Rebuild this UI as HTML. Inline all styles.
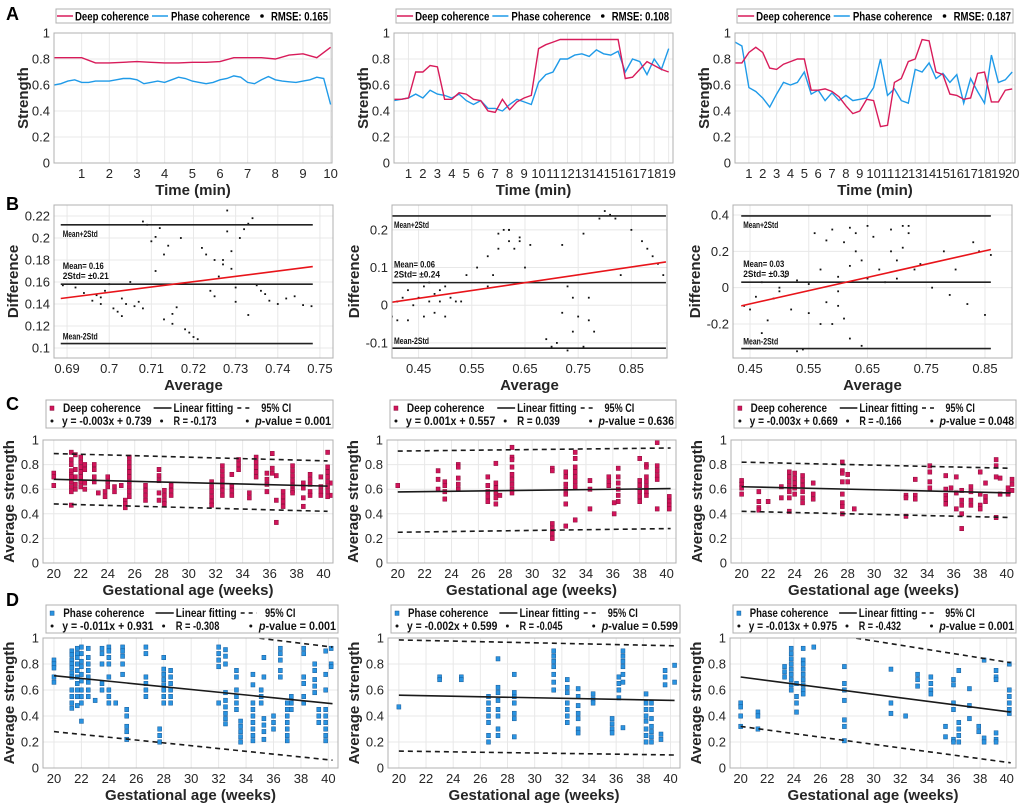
<!DOCTYPE html>
<html><head><meta charset="utf-8"><style>
html,body{margin:0;padding:0;background:#fff;}
svg{display:block;font-family:"Liberation Sans",Arial,sans-serif;}
</style></head><body>
<svg id="fig" width="1021" height="808" viewBox="0 0 1021 808" xmlns="http://www.w3.org/2000/svg">
<text x="6" y="20" font-size="18" font-weight="bold">A</text>
<text x="6" y="210" font-size="18" font-weight="bold">B</text>
<text x="6" y="410" font-size="18" font-weight="bold">C</text>
<text x="6" y="606" font-size="18" font-weight="bold">D</text>
</svg>
<script>
// ---------- Row A data (time step 0.25/0.5 min) ----------
const a1DeepStep = 0.5;
const a1Deep = [0.81,0.81,0.81,0.77,0.77,0.775,0.78,0.775,0.77,0.77,0.775,0.775,0.78,0.81,0.81,0.81,0.80,0.83,0.84,0.81,0.89];
const a1PhaseStep = 0.25;
const a1Phase = [0.60,0.61,0.63,0.64,0.62,0.62,0.63,0.63,0.63,0.64,0.65,0.65,0.64,0.61,0.62,0.63,0.62,0.64,0.66,0.65,0.63,0.62,0.61,0.62,0.64,0.65,0.67,0.66,0.62,0.61,0.64,0.665,0.64,0.63,0.625,0.62,0.63,0.64,0.66,0.65,0.45];
const a2Step = 0.5;
const a2Deep = [0.49,0.49,0.50,0.70,0.70,0.75,0.74,0.49,0.49,0.54,0.53,0.49,0.48,0.40,0.39,0.49,0.41,0.47,0.50,0.52,0.88,0.91,0.93,0.95,0.95,0.95,0.95,0.95,0.95,0.95,0.95,0.95,0.65,0.66,0.72,0.78,0.75,0.72,0.70];
const a2Phase = [0.48,0.49,0.50,0.53,0.50,0.56,0.53,0.52,0.50,0.53,0.48,0.45,0.48,0.42,0.42,0.40,0.45,0.49,0.47,0.45,0.62,0.68,0.70,0.80,0.80,0.83,0.84,0.82,0.87,0.84,0.83,0.86,0.70,0.80,0.78,0.68,0.80,0.72,0.88];
const a3Step = 0.5;
const a3Deep = [0.77,0.77,0.85,0.89,0.85,0.73,0.72,0.76,0.78,0.80,0.80,0.56,0.56,0.57,0.55,0.51,0.44,0.38,0.40,0.49,0.48,0.28,0.29,0.62,0.65,0.78,0.80,0.95,0.94,0.70,0.68,0.53,0.52,0.49,0.50,0.69,0.70,0.47,0.47,0.56,0.57];
const a3Phase = [0.93,0.90,0.58,0.55,0.50,0.43,0.53,0.62,0.60,0.62,0.70,0.53,0.56,0.48,0.54,0.48,0.52,0.48,0.49,0.50,0.58,0.80,0.52,0.57,0.48,0.46,0.72,0.70,0.77,0.65,0.69,0.62,0.68,0.46,0.65,0.55,0.46,0.83,0.62,0.64,0.70];
const aRmse = ["RMSE: 0.165","RMSE: 0.108","RMSE: 0.187"];
// ---------- Row B data ----------
const b1X = [0.689,0.692,0.694,0.696,0.697,0.698,0.699,0.700,0.701,0.702,0.703,0.704,0.706,0.707,0.708,0.708,0.709,0.710,0.711,0.712,0.713,0.714,0.715,0.715,0.716,0.718,0.719,0.720,0.721,0.722,0.723,0.724,0.725,0.726,0.727,0.727,0.728,0.728,0.729,0.730,0.731,0.732,0.733,0.733,0.734,0.735,0.736,0.737,0.738,0.740,0.742,0.744,0.746,0.748,0.705,0.711,0.713,0.717,0.725,0.729,0.730,0.698,0.703];
const b1Y = [0.157,0.155,0.150,0.143,0.148,0.140,0.152,0.158,0.136,0.133,0.145,0.140,0.138,0.142,0.215,0.136,0.212,0.197,0.201,0.209,0.126,0.193,0.131,0.122,0.137,0.117,0.114,0.110,0.108,0.191,0.185,0.152,0.147,0.165,0.176,0.180,0.206,0.225,0.172,0.142,0.200,0.208,0.213,0.130,0.218,0.157,0.152,0.149,0.143,0.140,0.145,0.147,0.139,0.138,0.160,0.170,0.185,0.200,0.180,0.188,0.155,0.146,0.129];
const b2X = [0.40,0.41,0.41,0.42,0.43,0.43,0.44,0.45,0.46,0.46,0.47,0.47,0.48,0.48,0.49,0.49,0.50,0.50,0.51,0.52,0.53,0.54,0.56,0.58,0.59,0.60,0.60,0.61,0.62,0.62,0.63,0.64,0.65,0.66,0.69,0.70,0.71,0.72,0.72,0.73,0.73,0.74,0.74,0.75,0.76,0.76,0.77,0.77,0.78,0.79,0.80,0.81,0.82,0.83,0.85,0.87,0.88,0.89,0.90,0.91,0.62,0.64,0.58];
const b2Y = [-0.03,0.01,-0.04,0.02,-0.04,0.04,0.00,0.02,0.05,-0.03,0.01,0.06,0.03,-0.02,0.04,0.01,-0.03,0.05,0.02,0.01,0.01,0.08,0.10,0.13,0.08,0.19,0.15,0.20,0.20,0.17,0.15,0.18,0.10,0.16,-0.09,-0.11,-0.10,0.16,-0.02,0.05,-0.12,0.02,-0.07,-0.03,0.19,-0.11,-0.04,0.02,-0.07,0.23,0.25,0.24,0.23,0.08,0.20,0.17,0.15,0.13,0.11,0.08,0.20,0.17,0.05];
const b3X = [0.44,0.45,0.46,0.47,0.48,0.49,0.50,0.50,0.51,0.52,0.53,0.54,0.55,0.55,0.56,0.57,0.58,0.58,0.59,0.59,0.60,0.60,0.61,0.61,0.62,0.62,0.63,0.63,0.64,0.64,0.65,0.65,0.66,0.67,0.68,0.69,0.69,0.70,0.70,0.71,0.71,0.72,0.72,0.73,0.74,0.76,0.78,0.79,0.80,0.82,0.83,0.84,0.85,0.86,0.57,0.60,0.62,0.47,0.53];
const b3Y = [-0.10,-0.12,-0.05,0.03,-0.18,-0.06,0.00,-0.02,0.06,-0.12,0.04,-0.34,0.02,-0.14,0.30,0.10,0.26,-0.08,-0.20,0.32,-0.10,0.06,0.25,-0.17,0.33,-0.28,0.30,0.20,0.15,-0.32,0.34,0.05,0.28,0.10,0.03,0.20,0.32,0.15,0.05,0.22,0.34,0.34,0.30,0.10,0.13,0.00,0.20,-0.04,0.10,-0.09,0.25,0.20,-0.15,0.18,-0.20,-0.02,0.12,-0.25,-0.35];
const bMean = [0.158,0.06,0.03];
const bUpper = [0.212,0.237,0.395];
const bLower = [0.104,-0.114,-0.335];
const bRange = [[0.6885,0.7483],[0.40,0.915],[0.435,0.86]];
const bFit = [[0.145,0.174],[0.008,0.115],[-0.10,0.21]];
const bMeanText = ["Mean= 0.16","Mean= 0.06","Mean= 0.03"];
const bStdText = ["2Std= \u00b10.21","2Std= \u00b10.24","2Std= \u00b10.39"];
// ---------- Row C data (weeks, grouped values) ----------
const c1Weeks = [20,21.3,21.6,22,22.3,23,23.3,23.8,24,24.5,25,25.3,25.6,26.8,27.8,28.2,28.7,31.7,32.5,33.2,33.7,34.5,35,35.8,36.2,36.5,37,37.7,38.5,39,39.8,40.3,40.6];
const c1Vals = [[0.73,0.70,0.63],[0.90,0.84,0.80,0.75,0.72,0.70,0.66,0.62,0.58,0.47],[0.88,0.76,0.70,0.64,0.60],[0.86,0.82,0.78,0.74,0.70,0.66,0.62],[0.80,0.76,0.65,0.60],[0.80,0.76,0.70,0.66],[0.57],[0.58,0.54],[0.70,0.66,0.62],[0.62,0.58],[0.63],[0.51,0.48,0.45],[0.86,0.82,0.78,0.74,0.70,0.66,0.62,0.58,0.54],[0.63,0.59,0.55,0.51],[0.76,0.71,0.67,0.57,0.51],[0.59,0.55,0.51,0.48],[0.63,0.59,0.55],[0.66,0.62,0.58,0.54,0.50,0.47],[0.79,0.75,0.71,0.67,0.63,0.59,0.55],[0.72,0.63,0.59,0.55],[0.84,0.80,0.76],[0.57,0.53],[0.86,0.82,0.78,0.74,0.70],[0.73,0.68,0.64,0.58],[0.89,0.77,0.73],[0.71,0.51,0.33],[0.58,0.54,0.50,0.46],[0.79,0.75,0.71,0.67,0.63,0.59,0.57],[0.65,0.61,0.53,0.46],[0.72,0.68,0.64,0.58,0.55],[0.70,0.62,0.58,0.55],[0.90,0.78,0.74,0.70,0.66,0.62,0.58,0.54],[0.65,0.55]];
const c2Weeks = [20,23,23.5,24.5,26.7,27.3,27.6,28.5,31.5,32.5,33.2,34.3,35.7,36.1,36.4,38,38.5,39.3,40.2];
const c2Vals = [[0.63],[0.75,0.68,0.60],[0.66,0.63,0.58,0.52],[0.80,0.78,0.69,0.64,0.60],[0.70,0.63,0.58,0.54,0.50],[0.81,0.65,0.61,0.57,0.53,0.48],[0.55],[0.94,0.86,0.84,0.78,0.72,0.68,0.64,0.60,0.57],[0.77,0.75,0.32,0.28,0.24,0.20],[0.74,0.70,0.64,0.60,0.56,0.48,0.30],[0.90,0.85,0.78,0.74,0.70,0.66,0.62,0.35],[0.67,0.60,0.44],[0.70,0.66,0.63],[0.49,0.40],[0.77,0.70,0.65,0.60,0.55,0.50],[0.85,0.67,0.63,0.58,0.54,0.50],[0.80,0.78,0.70,0.66,0.62,0.58,0.55],[0.98,0.79,0.75,0.71,0.68,0.44],[0.54,0.50,0.47,0.44]];
const c3Weeks = [20,21.3,22,23,23.6,24,24.6,25.4,27.6,28,28.5,32.4,33.1,34.2,35.4,35.8,36.2,36.6,37.3,38,38.4,39.2,39.5,40.1,40.4];
const c3Vals = [[0.67,0.64,0.61,0.56],[0.58,0.50,0.45,0.43],[0.50],[0.62,0.53],[0.74,0.70,0.66,0.62,0.58,0.53,0.42],[0.73,0.69,0.65,0.61,0.56],[0.71,0.67,0.63,0.58,0.53,0.49],[0.65,0.56,0.52],[0.82,0.75,0.73,0.66,0.56,0.49,0.46,0.40],[0.72,0.66],[0.44],[0.55,0.53,0.38],[0.68,0.55,0.52],[0.79,0.74,0.66,0.61],[0.71,0.60,0.55,0.52,0.48],[0.61],[0.70,0.57,0.44],[0.59,0.51,0.47,0.40,0.28],[0.62,0.58,0.51,0.47],[0.74,0.56,0.47,0.44],[0.65,0.54,0.50],[0.84,0.79,0.70,0.37],[0.69,0.56],[0.61,0.57,0.56],[0.68,0.64,0.59]];
// ---------- Row D data ----------
const d1Weeks = [20,21.3,21.7,22,22.5,23,23.5,24,24.5,25,25.3,26.7,27.7,28,28.5,32,32.5,33.3,33.6,34.5,35.1,35.3,36,36.5,37,37.3,38.2,39,39.3,39.8,40.2];
const d1Vals = [[0.83,0.80,0.77,0.70,0.66],[0.90,0.87,0.83,0.80,0.77,0.73,0.70,0.60,0.55,0.50,0.46],[0.92,0.88,0.85,0.80,0.75,0.70,0.65,0.60,0.55,0.48],[0.93,0.88,0.82,0.78,0.72,0.67,0.60,0.55,0.50,0.36],[0.92,0.85,0.80,0.75,0.70,0.66,0.60,0.55],[0.52],[0.92,0.88,0.80,0.65,0.60],[0.93,0.90,0.85,0.80,0.70,0.60,0.55,0.50],[0.50],[0.93,0.90,0.86,0.80,0.72],[0.45,0.40,0.32,0.28,0.22],[0.93,0.88,0.70,0.65,0.60,0.55],[0.30,0.25,0.20],[0.85,0.76,0.72,0.68,0.64,0.60,0.55,0.50],[0.75,0.70,0.65,0.60,0.55,0.50],[0.93,0.88,0.83,0.78,0.50],[0.91,0.86,0.80,0.58,0.52,0.47,0.42,0.38,0.34],[0.75,0.70,0.60,0.55,0.50,0.45],[0.36,0.32,0.28,0.24,0.20],[0.72,0.64,0.50,0.45,0.40,0.35,0.30,0.25,0.21],[0.60,0.55,0.50],[0.85,0.70,0.38,0.33,0.28,0.22],[0.40,0.35,0.30],[0.92,0.88,0.83,0.75,0.70],[0.50,0.45,0.40,0.35,0.30,0.25,0.21],[0.55,0.50,0.45],[0.92,0.88,0.70,0.65,0.55,0.50],[0.80,0.75,0.68,0.63,0.58],[0.45,0.40,0.35],[0.90,0.72,0.60,0.45,0.40,0.35,0.30,0.25,0.21],[0.92,0.80,0.78]];
const d2Weeks = [20,23,24.6,26.6,27.3,28.5,31.4,32.4,33.2,34.3,35.7,36.2,36.5,38.2,38.6,39.3,39.6,40.3];
const d2Vals = [[0.47],[0.70,0.68],[0.70,0.68],[0.55,0.50,0.45,0.40,0.35,0.25,0.20],[0.84,0.62,0.58,0.52,0.45,0.40,0.30,0.25],[0.72,0.58,0.55,0.50,0.42,0.38,0.24],[0.90,0.86,0.82,0.78,0.72,0.66,0.60],[0.68,0.62,0.58,0.50,0.45,0.40,0.35],[0.61,0.55,0.48,0.42,0.38,0.30,0.27],[0.57,0.53,0.50],[0.38,0.34,0.30,0.27],[0.70,0.65,0.60,0.54],[0.90,0.86,0.82,0.78,0.72,0.66,0.31],[0.57,0.50,0.45,0.40,0.36,0.30,0.25,0.20],[0.50,0.45,0.38,0.32,0.28,0.24,0.20],[0.26,0.22],[0.75,0.70,0.64],[0.79,0.66]];
const d3Weeks = [20,21.3,23.3,23.8,24.2,24.7,25.5,27.8,31.3,32.4,33.3,34.3,35.4,36,36.4,37.2,37.9,38.3,39.2,40.2];
const d3Vals = [[0.50,0.47,0.40,0.32],[0.43,0.40,0.30],[0.78,0.74,0.70],[0.92,0.88,0.84,0.80,0.76,0.72,0.68,0.64,0.60],[0.65,0.55,0.50,0.43],[0.92,0.83,0.80,0.76,0.72,0.68,0.64,0.60,0.57],[0.93],[0.78,0.65,0.60,0.52,0.37,0.32,0.21],[0.76,0.50,0.42],[0.40],[0.72,0.68,0.63],[0.70,0.65,0.60,0.57],[0.32,0.24],[0.68,0.64,0.50,0.45,0.22,0.20],[0.75,0.35,0.30,0.25,0.20],[0.61,0.48,0.38],[0.32,0.28],[0.83,0.23,0.20],[0.75,0.70,0.68,0.27,0.22,0.20],[0.80,0.60,0.55,0.50,0.45,0.42]];
// fit/CI lines: [value at 20, value at 40.3]
const cdFitEnds = [[0.68,0.625],[0.578,0.605],[0.62,0.57],[0.71,0.495],[0.56,0.52],[0.70,0.43]];
const cdUpperEnds = [[0.89,0.83],[0.91,0.935],[0.82,0.77],[1.19,0.93],[0.985,0.94],[1.14,0.81]];
const cdLowerEnds = [[0.48,0.42],[0.25,0.28],[0.42,0.37],[0.28,0.06],[0.13,0.10],[0.32,0.04]];
const cdEq = ["y = -0.003x + 0.739","y = 0.001x + 0.557","y = -0.003x + 0.669","y = -0.011x + 0.931","y = -0.002x + 0.599","y = -0.013x + 0.975"];
const cdR = ["R = -0.173","R = 0.039","R = -0.166","R = -0.308","R = -0.045","R = -0.432"];
const cdP = ["0.001","0.636","0.048","0.001","0.599","0.001"];

const NS = "http://www.w3.org/2000/svg";
const svg = document.getElementById('fig');
function mk(tag, attrs, parent){
  const e = document.createElementNS(NS, tag);
  for (const k in attrs) e.setAttribute(k, attrs[k]);
  (parent||svg).appendChild(e);
  return e;
}
function txt(str, attrs, parent){ const t = mk('text', attrs, parent); t.textContent = str; return t; }
let clipId = 0;
function axes(o){
  const g = mk('g', {});
  
  
  const sx = v => o.L + (v - o.xd[0]) / (o.xd[1] - o.xd[0]) * (o.R - o.L);
  const sy = v => o.B - (v - o.yd[0]) / (o.yd[1] - o.yd[0]) * (o.B - o.T);
  mk('rect', {x:o.L, y:o.T, width:o.R-o.L, height:o.B-o.T, fill:'#fff'}, g);
  const grid = mk('g', {stroke:'#e8e8e8', 'stroke-width':1}, g);
  
  
  o.xt.forEach(v => { const x = sx(v); mk('line', {x1:x, x2:x, y1:o.T, y2:o.B}, grid); });
  o.yt.forEach(v => { const y = sy(v); mk('line', {x1:o.L, x2:o.R, y1:y, y2:y}, grid); });
  const xl = mk('g', {'font-size':13, fill:'#262626', 'text-anchor':'middle'}, g);
  
  
  o.xt.forEach((v,i) => txt(o.xtl ? o.xtl[i] : String(v), {x:sx(v), y:o.B+15}, xl));
  const yl = mk('g', {'font-size':13, fill:'#262626', 'text-anchor':'end'}, g);
  
  
  o.yt.forEach((v,i) => txt(o.ytl ? o.ytl[i] : String(v), {x:o.L-4, y:sy(v)+4.5}, yl));
  const xt = txt(o.xlabel, {x:(o.L+o.R)/2, y:o.B+32, 'font-size':15, 'font-weight':'bold', 'text-anchor':'middle', fill:'#262626'}, g);
  
  
  const yx = o.L - o.ylOff, ymid = (o.T+o.B)/2;
  const yt = txt(o.ylabel, {x:yx, y:ymid, 'font-size':15, 'font-weight':'bold', 'text-anchor':'middle', fill:'#262626', transform:`rotate(-90 ${yx} ${ymid})`}, g);
  
  
  const id = 'clip' + (clipId++);
  const cp = mk('clipPath', {id:id}, g);
  mk('rect', {x:o.L, y:o.T, width:o.R-o.L, height:o.B-o.T}, cp);
  const plot = mk('g', {'clip-path':`url(#${id})`}, g);
  
  
  const border = mk('rect', {x:o.L, y:o.T, width:o.R-o.L, height:o.B-o.T, fill:'none', stroke:'#b0b0b0', 'stroke-width':1}, g);
  
  
  return {sx, sy, g, plot};
}
function pathFrom(xs, ys, sx, sy){ return xs.map((x,i)=>(i?'L':'M')+sx(x).toFixed(1)+','+sy(ys[i]).toFixed(1)).join(''); }

// ---------- Row A ----------
const RED = '#d81b5a', BLUE = '#1f9ae8';
const aBoxes = [[54,332,[0,10.05],[1,2,3,4,5,6,7,8,9,10]],[394,673,[0,19.3],[1,2,3,4,5,6,7,8,9,10,11,12,13,14,15,16,17,18,19]],[735,1015,[0,20.2],[1,2,3,4,5,6,7,8,9,10,11,12,13,14,15,16,17,18,19,20]]];
const aSeries = [[a1Deep,a1DeepStep,a1Phase,a1PhaseStep],[a2Deep,a2Step,a2Phase,a2Step],[a3Deep,a3Step,a3Phase,a3Step]];
aBoxes.forEach((b,k) => {
  const ax = axes({name:'strength-panel-a'+(k+1), L:b[0], R:b[1], T:33, B:163, xd:b[2], yd:[0,1], xt:b[3], yt:[0,0.2,0.4,0.6,0.8,1], xlabel:'Time (min)', ylabel:'Strength', ylOff:26});
  const s = aSeries[k];
  const px = s[2].map((v,i)=>i*s[3]);
  const pl = mk('path', {d:pathFrom(px, s[2], ax.sx, ax.sy), fill:'none', stroke:BLUE, 'stroke-width':1.4}, ax.plot);
  
  
  const dx = s[0].map((v,i)=>i*s[1]);
  const dl = mk('path', {d:pathFrom(dx, s[0], ax.sx, ax.sy), fill:'none', stroke:RED, 'stroke-width':1.4}, ax.plot);
  
  
  // legend
  const L = b[0]+2, W = b[1]-b[0]-4, f = W/274;
  const lg = mk('g', {}, svg);
  
  
  mk('rect', {x:L, y:9, width:W, height:14, fill:'#fff', stroke:'#b0b0b0'}, lg);
  mk('line', {x1:L+1*f, x2:L+17*f, y1:16, y2:16, stroke:RED, 'stroke-width':1.5}, lg);
  txt('Deep coherence', {x:L+19*f, y:20.5, 'font-size':12, 'font-weight':'bold', textLength:74*f, lengthAdjust:'spacingAndGlyphs'}, lg);
  mk('line', {x1:L+96*f, x2:L+112*f, y1:16, y2:16, stroke:BLUE, 'stroke-width':1.5}, lg);
  txt('Phase coherence', {x:L+115*f, y:20.5, 'font-size':12, 'font-weight':'bold', textLength:79*f, lengthAdjust:'spacingAndGlyphs'}, lg);
  mk('circle', {cx:L+206*f, cy:16, r:1.8, fill:'#000'}, lg);
  txt(aRmse[k], {x:L+215*f, y:20.5, 'font-size':12, 'font-weight':'bold', textLength:57*f, lengthAdjust:'spacingAndGlyphs'}, lg);
});

// ---------- Row B ----------
const bBoxes = [
  [54,333,[0.6869,0.7531],[0.0909,0.23],[0.69,0.70,0.71,0.72,0.73,0.74,0.75],['0.69','0.7','0.71','0.72','0.73','0.74','0.75'],[0.1,0.12,0.14,0.16,0.18,0.2,0.22],['0.1','0.12','0.14','0.16','0.18','0.2','0.22'],36],
  [392,667,[0.40,0.917],[-0.14,0.266],[0.45,0.55,0.65,0.75,0.85],['0.45','0.55','0.65','0.75','0.85'],[-0.1,0,0.1,0.2],['-0.1','0','0.1','0.2'],33],
  [733,1012,[0.421,0.896],[-0.387,0.455],[0.45,0.55,0.65,0.75,0.85],['0.45','0.55','0.65','0.75','0.85'],[-0.2,0,0.2,0.4],['-0.2','0','0.2','0.4'],33]];
const bX = [b1X,b2X,b3X], bY = [b1Y,b2Y,b3Y];
bBoxes.forEach((b,k) => {
  const ax = axes({name:'bland-altman-panel-b'+(k+1), L:b[0], R:b[1], T:205, B:358, xd:b[2], yd:b[3], xt:b[4], xtl:b[5], yt:b[6], ytl:b[7], xlabel:'Average', ylabel:'Difference', ylOff:b[8]});
  const pts = mk('g', {fill:'#111'}, ax.plot);
  
  
  const n = Math.min(bX[k].length, bY[k].length);
  for (let i=0;i<n;i++) mk('rect', {x:ax.sx(bX[k][i])-0.9, y:ax.sy(bY[k][i])-0.9, width:1.8, height:1.8}, pts);
  const r = bRange[k];
  [[bUpper[k],'upper-limit-line'],[bMean[k],'mean-line'],[bLower[k],'lower-limit-line']].forEach(l => {
    const ln = mk('line', {x1:ax.sx(r[0]), x2:ax.sx(r[1]), y1:ax.sy(l[0]), y2:ax.sy(l[0]), stroke:'#222', 'stroke-width':1.6}, ax.plot);
    
    
  });
  const fl = mk('line', {x1:ax.sx(r[0]), x2:ax.sx(r[1]), y1:ax.sy(bFit[k][0]), y2:ax.sy(bFit[k][1]), stroke:'#e8141a', 'stroke-width':1.6}, ax.plot);
  
  
  const tx = ax.sx(r[0]) + 2;
  const st = {'font-size':9, 'font-weight':'bold', fill:'#111'};
  const t1 = txt('Mean+2Std', Object.assign({x:tx, y:ax.sy(bUpper[k])+12, textLength:35, lengthAdjust:'spacingAndGlyphs'}, st), ax.g);
  
  
  const t2 = txt(bMeanText[k], Object.assign({x:tx, y:ax.sy(bMean[k])-15, textLength:41, lengthAdjust:'spacingAndGlyphs'}, st), ax.g);
  
  
  const t3 = txt(bStdText[k], Object.assign({x:tx, y:ax.sy(bMean[k])-5, textLength:46, lengthAdjust:'spacingAndGlyphs'}, st), ax.g);
  
  
  const t4 = txt('Mean-2Std', Object.assign({x:tx, y:ax.sy(bLower[k])-4, textLength:35, lengthAdjust:'spacingAndGlyphs'}, st), ax.g);
  
  
});

// ---------- Rows C & D ----------
const cdPanels = [
  [43,333,440,563,c1Weeks,c1Vals,'Deep coherence','#d0145a','#8a0a38',400],
  [387,676,440,563,c2Weeks,c2Vals,'Deep coherence','#d0145a','#8a0a38',400],
  [731,1016,440,563,c3Weeks,c3Vals,'Deep coherence','#d0145a','#8a0a38',400],
  [43,338,638,768,d1Weeks,d1Vals,'Phase coherence','#2a93e0','#145a9a',605],
  [388,680,638,768,d2Weeks,d2Vals,'Phase coherence','#2a93e0','#145a9a',605],
  [730,1016,638,768,d3Weeks,d3Vals,'Phase coherence','#2a93e0','#145a9a',605]];
cdPanels.forEach((p,k) => {
  const ax = axes({name:(k<3?'deep-scatter-panel-c':'phase-scatter-panel-d')+(k%3+1), L:p[0], R:p[1], T:p[2], B:p[3], xd:[19.2,40.7], yd:[0,1], xt:[20,22,24,26,28,30,32,34,36,38,40], yt:[0,0.2,0.4,0.6,0.8,1], xlabel:'Gestational age (weeks)', ylabel:'Average strength', ylOff:29});
  const pts = mk('g', {fill:p[7], stroke:p[8], 'stroke-width':0.5}, ax.plot);
  
  
  p[4].forEach((w,i) => (p[5][i]||[]).forEach(v => mk('rect', {x:ax.sx(w)-2, y:ax.sy(v)-2.2, width:4, height:4.4}, pts)));
  const x0 = ax.sx(20), x1 = ax.sx(40.3);
  const fl = mk('line', {x1:x0, x2:x1, y1:ax.sy(cdFitEnds[k][0]), y2:ax.sy(cdFitEnds[k][1]), stroke:'#1a1a1a', 'stroke-width':1.6}, ax.plot);
  
  
  const cu = mk('line', {x1:x0, x2:x1, y1:ax.sy(cdUpperEnds[k][0]), y2:ax.sy(cdUpperEnds[k][1]), stroke:'#1a1a1a', 'stroke-width':1.6, 'stroke-dasharray':'5,4'}, ax.plot);
  
  
  const cl = mk('line', {x1:x0, x2:x1, y1:ax.sy(cdLowerEnds[k][0]), y2:ax.sy(cdLowerEnds[k][1]), stroke:'#1a1a1a', 'stroke-width':1.6, 'stroke-dasharray':'5,4'}, ax.plot);
  
  
  // legend
  const L = p[0]+3, W = p[1]-p[0]-3, f = W/288, T = p[9];
  const lg = mk('g', {'font-size':12, 'font-weight':'bold', fill:'#111'}, svg);
  
  
  mk('rect', {x:L, y:T, width:W, height:28, fill:'#fff', stroke:'#b0b0b0'}, lg);
  const r1 = T+12, r2 = T+25;
  mk('rect', {x:L+6*f-2, y:r1-6, width:4, height:4.4, fill:p[7], stroke:p[8], 'stroke-width':0.5}, lg);
  txt(p[6], {x:L+17*f, y:r1, textLength:(k<3?78:80)*f, lengthAdjust:'spacingAndGlyphs'}, lg);
  mk('line', {x1:L+108*f, x2:L+126*f, y1:r1-4, y2:r1-4, stroke:'#111', 'stroke-width':1.5}, lg);
  txt('Linear fitting', {x:L+128*f, y:r1, textLength:60*f, lengthAdjust:'spacingAndGlyphs'}, lg);
  mk('line', {x1:L+192*f, x2:L+208*f, y1:r1-4, y2:r1-4, stroke:'#111', 'stroke-width':1.5, 'stroke-dasharray':'4,4'}, lg);
  txt('95% CI', {x:L+216*f, y:r1, textLength:30*f, lengthAdjust:'spacingAndGlyphs'}, lg);
  mk('circle', {cx:L+6*f, cy:r2-4, r:1.5, fill:'#111'}, lg);
  txt(cdEq[k], {x:L+16*f, y:r2, textLength:90*f, lengthAdjust:'spacingAndGlyphs'}, lg);
  mk('circle', {cx:L+116*f, cy:r2-4, r:1.5, fill:'#111'}, lg);
  txt(cdR[k], {x:L+128*f, y:r2, textLength:43*f, lengthAdjust:'spacingAndGlyphs'}, lg);
  mk('circle', {cx:L+202*f, cy:r2-4, r:1.5, fill:'#111'}, lg);
  const pt = txt('', {x:L+210*f, y:r2, textLength:76*f, lengthAdjust:'spacingAndGlyphs'}, lg);
  const it = mk('tspan', {'font-style':'italic'}, pt); it.textContent = 'p';
  const rt = mk('tspan', {}, pt); rt.textContent = '-value = ' + cdP[k];
});
</script>
</body></html>
